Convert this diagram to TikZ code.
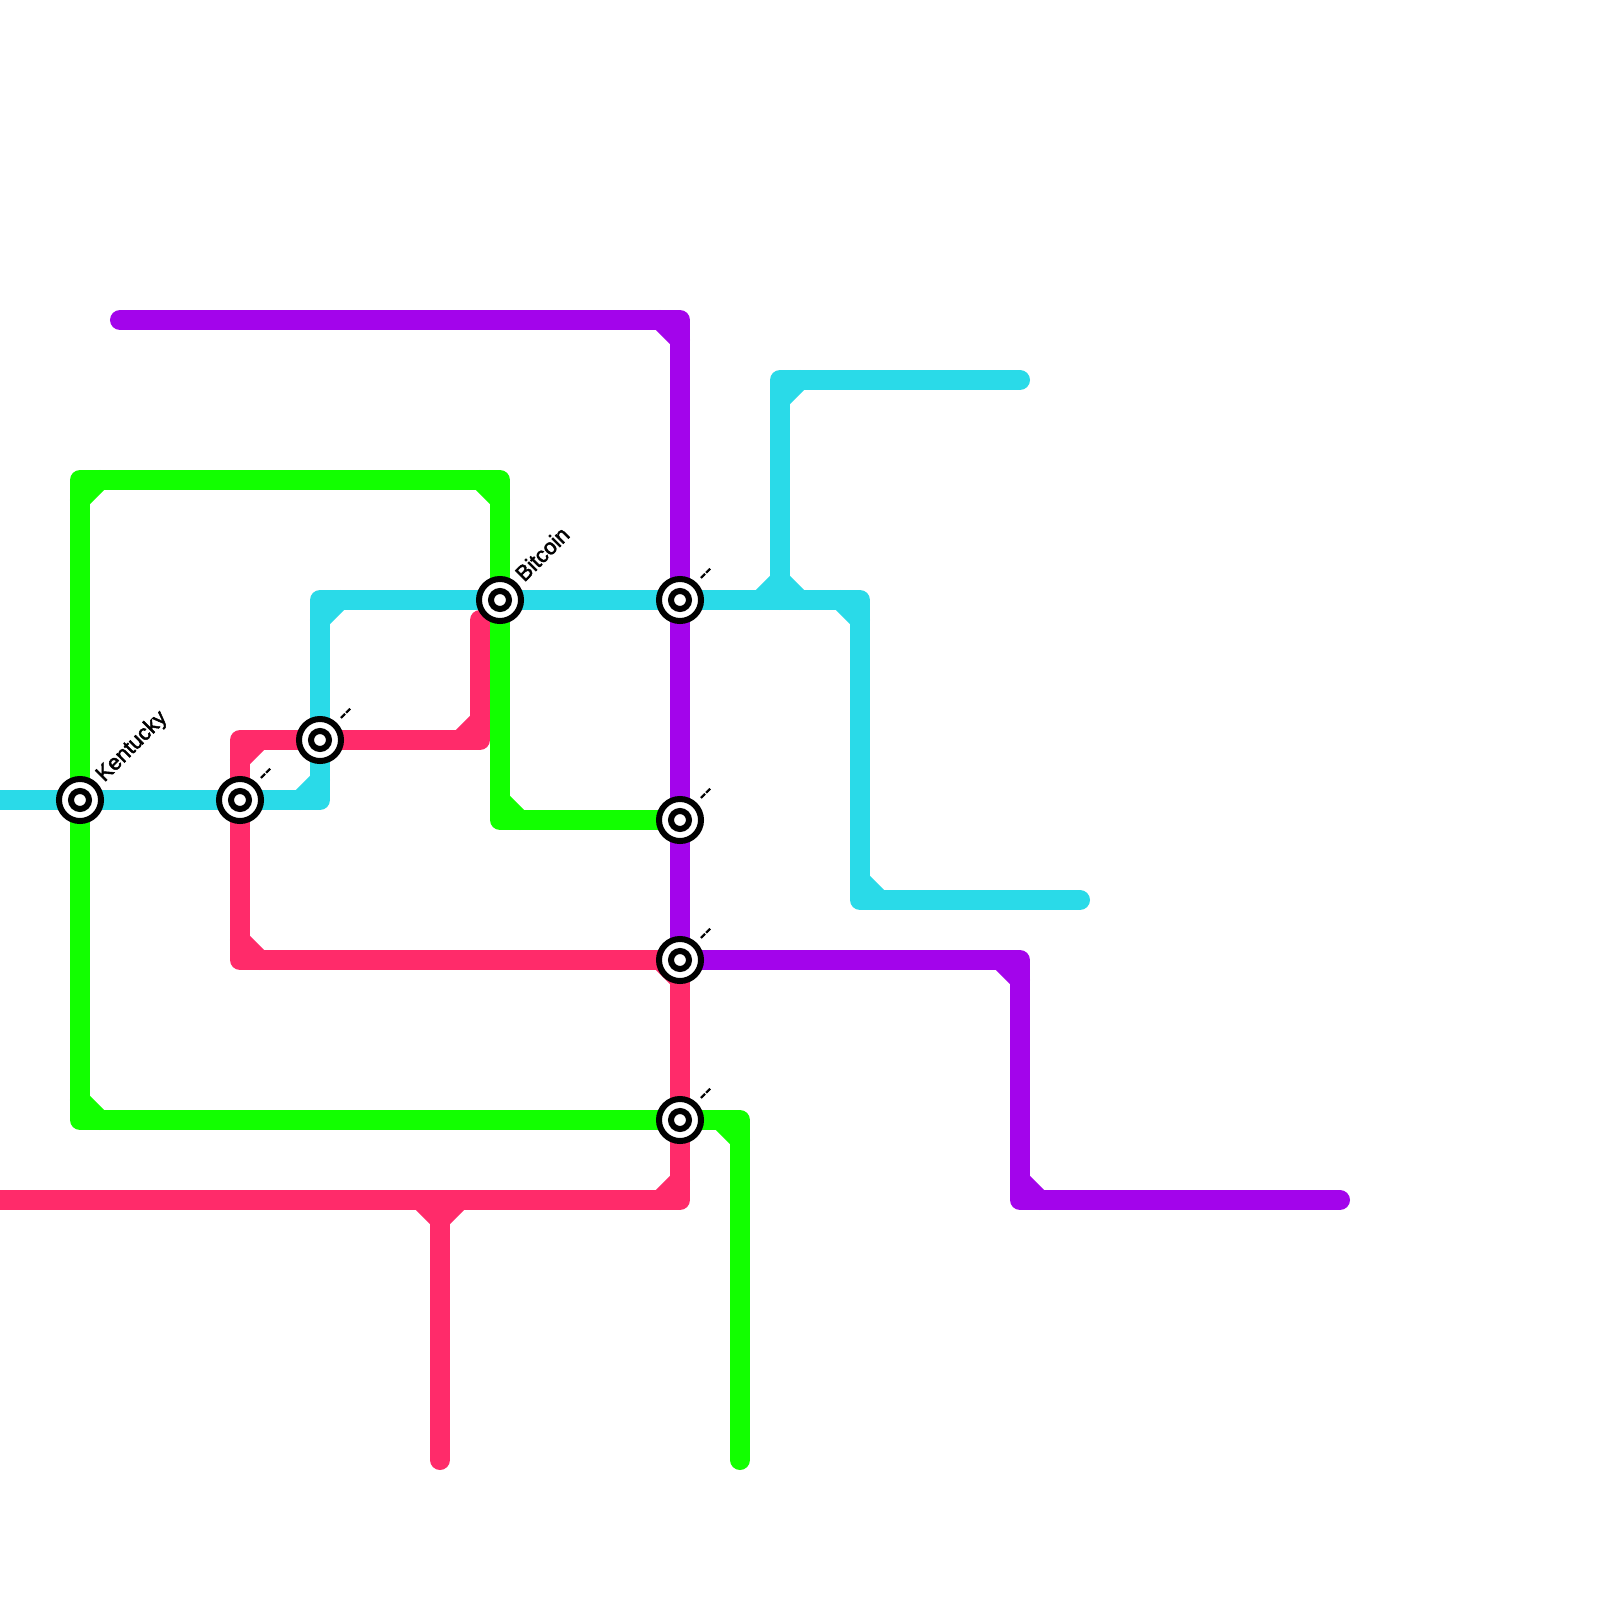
\documentclass[tikz,border=0pt]{standalone}
\usepackage{fontspec}
\newfontfamily\stationfont[FakeBold=2.2]{Liberation Sans}
\usetikzlibrary{backgrounds}
\definecolor{linePurple}{HTML}{A304EB}
\definecolor{lineCyan}{HTML}{2ADAE8}
\definecolor{lineGreen}{HTML}{12FF00}
\definecolor{lineRed}{HTML}{FF2B6A}
\tikzset{
  metroline/.style={
    line width=0.2cm,
    line cap=round,
    line join=round
  },
  purpleline/.style={metroline,draw=linePurple},
  cyanline/.style={metroline,draw=lineCyan},
  greenline/.style={metroline,draw=lineGreen},
  redline/.style={metroline,draw=lineRed},
  station/.style={
    circle,
    draw=black,
    fill=white,
    line width=0.06cm,
    minimum size=0.42cm,
    inner sep=0pt
  },
  stationcore/.style={
    circle,
    draw=black,
    fill=white,
    line width=0.06cm,
    minimum size=0.18cm,
    inner sep=0pt
  },
  stationlabel/.style={
    anchor=base west,
    rotate=45,
    inner sep=0pt,
    font=\stationfont\fontsize{6.2}{7}\selectfont
  }
}
\begin{document}
\begin{tikzpicture}[x=0.01cm,y=-0.01cm]
  \useasboundingbox (0,0) rectangle (1600,1600);

  % stations
  \foreach \name/\px/\py/\txt in {
    kentucky/80/800/Kentucky,
    stationA/240/800/{-{}-},
    stationB/320/740/{-{}-},
    bitcoin/500/600/Bitcoin,
    stationC/680/600/{-{}-},
    stationD/680/820/{-{}-},
    stationE/680/960/{-{}-},
    stationF/680/1120/{-{}-}
  }{
    \node[station] (\name) at (\px,\py) {};
    \node[stationcore] (\name core) at (\name) {};
    \node[stationlabel] (\name label) at ([shift={(24,-17)}]\name) {\txt};
  }

  % line ends and bends
  \coordinate (purpleA) at (120,320);
  \coordinate (purpleB) at (680,320);
  \coordinate (purpleC) at (1020,960);
  \coordinate (purpleD) at (1020,1200);
  \coordinate (purpleE) at (1340,1200);

  \coordinate (cyanA) at (-20,800);
  \coordinate (cyanB) at (320,800);
  \coordinate (cyanC) at (320,600);
  \coordinate (cyanD) at (860,600);
  \coordinate (cyanE) at (860,900);
  \coordinate (cyanF) at (1080,900);
  \coordinate (cyanG) at (780,600);
  \coordinate (cyanH) at (780,380);
  \coordinate (cyanI) at (1020,380);

  \coordinate (greenA) at (740,1460);
  \coordinate (greenB) at (740,1120);
  \coordinate (greenC) at (80,1120);
  \coordinate (greenD) at (80,480);
  \coordinate (greenE) at (500,480);
  \coordinate (greenF) at (500,820);

  \coordinate (redA) at (-20,1200);
  \coordinate (redB) at (680,1200);
  \coordinate (redC) at (240,960);
  \coordinate (redD) at (240,740);
  \coordinate (redE) at (480,740);
  \coordinate (redF) at (480,620);
  \coordinate (redG) at (440,1200);
  \coordinate (redH) at (440,1460);

  \begin{scope}[on background layer]
    % red
    \draw[redline] (redA) -- (redG) -- (redB) -- (stationF.center) -- (stationE.center)
      -- (redC) -- (stationA.center) -- (redD) -- (stationB.center) -- (redE) -- (redF);
    \draw[redline] (redG) -- (redH);
    \foreach \xa/\ya/\xb/\yb in {660/1200/680/1180,420/1200/440/1220,460/1200/440/1220,
      660/960/680/980,240/940/260/960,240/760/260/740,460/740/480/720}
      \draw[redline] (\xa,\ya) -- (\xb,\yb);

    % green
    \draw[greenline] (greenA) -- (greenB) -- (stationF.center) -- (greenC) -- (kentucky.center)
      -- (greenD) -- (greenE) -- (bitcoin.center) -- (greenF) -- (stationD.center);
    \foreach \xa/\ya/\xb/\yb in {720/1120/740/1140,80/1100/100/1120,80/500/100/480,
      480/480/500/500,500/800/520/820}
      \draw[greenline] (\xa,\ya) -- (\xb,\yb);

    % cyan
    \draw[cyanline] (cyanA) -- (kentucky.center) -- (stationA.center) -- (cyanB)
      -- (stationB.center) -- (cyanC) -- (bitcoin.center) -- (stationC.center)
      -- (cyanD) -- (cyanE) -- (cyanF);
    \draw[cyanline] (cyanG) -- (cyanH) -- (cyanI);
    \foreach \xa/\ya/\xb/\yb in {300/800/320/780,320/620/340/600,840/600/860/620,
      860/880/880/900,780/400/800/380,760/600/780/580,780/580/800/600}
      \draw[cyanline] (\xa,\ya) -- (\xb,\yb);

    % purple
    \draw[purpleline] (purpleA) -- (purpleB) -- (stationC.center) -- (stationD.center)
      -- (stationE.center) -- (purpleC) -- (purpleD) -- (purpleE);
    \foreach \xa/\ya/\xb/\yb in {660/320/680/340,1000/960/1020/980,1020/1180/1040/1200}
      \draw[purpleline] (\xa,\ya) -- (\xb,\yb);
  \end{scope}
\end{tikzpicture}
\end{document}
